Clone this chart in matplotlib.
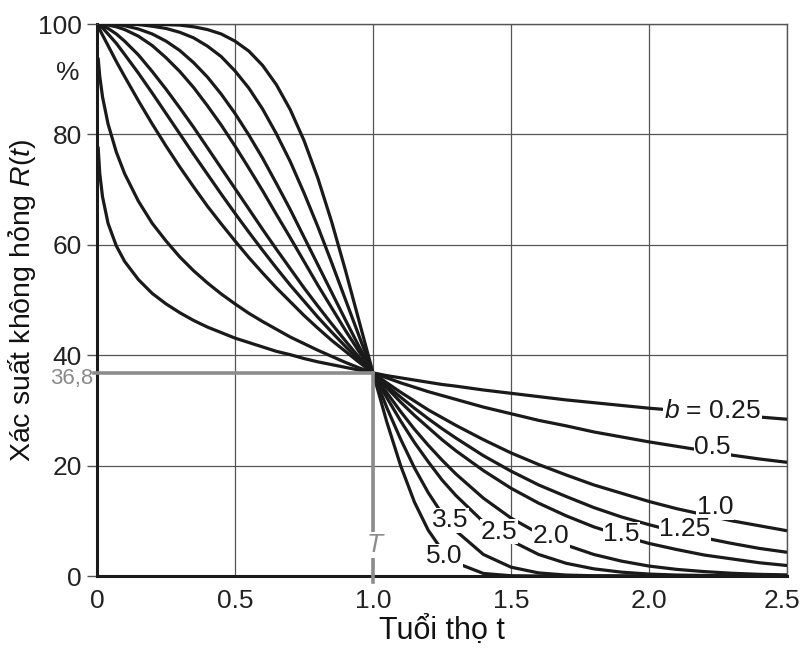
import matplotlib
matplotlib.use("Agg")
import matplotlib.pyplot as plt
import matplotlib.transforms as mtransforms

plt.rcParams['font.family'] = ['Liberation Sans', 'DejaVu Sans']
plt.rcParams['mathtext.fontset'] = 'custom'
plt.rcParams['mathtext.rm'] = 'Liberation Sans'
plt.rcParams['mathtext.it'] = 'Liberation Sans:italic'

# --- data: R(t) in %, one list per shape factor b ---
t = [0.004, 0.01, 0.02, 0.04, 0.07, 0.1, 0.15, 0.2, 0.25, 0.3, 0.35, 0.4, 0.45,
     0.5, 0.55, 0.6, 0.65, 0.7, 0.75, 0.8, 0.85, 0.9, 0.95, 1.0, 1.05, 1.1,
     1.15, 1.2, 1.25, 1.3, 1.4, 1.5, 1.6, 1.7, 1.8, 1.9, 2.0, 2.1, 2.2, 2.3,
     2.4, 2.5]

r_b025 = [77.8, 72.9, 68.7, 63.9, 59.8, 57.0, 53.7, 51.2, 49.3, 47.7, 46.3, 45.1,
          44.1, 43.1, 42.3, 41.5, 40.7, 40.1, 39.4, 38.8, 38.3, 37.8, 37.3, 36.8,
          36.3, 35.9, 35.5, 35.1, 34.7, 34.4, 33.7, 33.1, 32.5, 31.9, 31.4, 30.9,
          30.4, 30.0, 29.6, 29.2, 28.8, 28.4]
r_b05 = [93.9, 90.5, 86.8, 81.9, 76.8, 72.9, 67.9, 63.9, 60.7, 57.8, 55.3, 53.1,
         51.1, 49.3, 47.6, 46.1, 44.7, 43.3, 42.1, 40.9, 39.8, 38.7, 37.7, 36.8,
         35.9, 35.0, 34.2, 33.4, 32.7, 32.0, 30.6, 29.4, 28.2, 27.2, 26.1, 25.2,
         24.3, 23.5, 22.7, 21.9, 21.2, 20.6]
r_b1 = [99.6, 99.0, 98.0, 96.1, 93.2, 90.5, 86.1, 81.9, 77.9, 74.1, 70.5, 67.0,
        63.8, 60.7, 57.7, 54.9, 52.2, 49.7, 47.2, 44.9, 42.7, 40.7, 38.7, 36.8,
        35.0, 33.3, 31.7, 30.1, 28.7, 27.3, 24.7, 22.3, 20.2, 18.3, 16.5, 15.0,
        13.5, 12.2, 11.1, 10.0, 9.1, 8.2]
r_b125 = [99.9, 99.7, 99.3, 98.2, 96.5, 94.5, 91.1, 87.5, 83.8, 80.1, 76.4, 72.8,
          69.2, 65.7, 62.3, 59.0, 55.8, 52.7, 49.8, 46.9, 44.2, 41.6, 39.1, 36.8,
          34.5, 32.4, 30.4, 28.5, 26.7, 25.0, 21.8, 19.0, 16.5, 14.4, 12.4, 10.7,
          9.3, 8.0, 6.9, 5.9, 5.0, 4.3]
r_b15 = [100.0, 99.9, 99.7, 99.2, 98.2, 96.9, 94.4, 91.4, 88.2, 84.8, 81.3, 77.6,
         73.9, 70.2, 66.5, 62.8, 59.2, 55.7, 52.2, 48.9, 45.7, 42.6, 39.6, 36.8,
         34.1, 31.5, 29.1, 26.9, 24.7, 22.7, 19.1, 15.9, 13.2, 10.9, 8.9, 7.3,
         5.9, 4.8, 3.8, 3.1, 2.4, 1.9]
r_b2 = [100.0, 100.0, 100.0, 99.8, 99.5, 99.0, 97.8, 96.1, 93.9, 91.4, 88.5, 85.2,
        81.7, 77.9, 73.9, 69.8, 65.5, 61.3, 57.0, 52.7, 48.6, 44.5, 40.6, 36.8,
        33.2, 29.8, 26.6, 23.7, 21.0, 18.5, 14.1, 10.5, 7.7, 5.6, 3.9, 2.7,
        1.8, 1.2, 0.8, 0.5, 0.3, 0.2]
r_b25 = [100.0, 100.0, 100.0, 100.0, 99.9, 99.7, 99.1, 98.2, 96.9, 95.2, 93.0, 90.4,
         87.3, 83.8, 79.9, 75.7, 71.1, 66.4, 61.4, 56.4, 51.4, 46.4, 41.5, 36.8,
         32.3, 28.1, 24.2, 20.7, 17.4, 14.6, 9.8, 6.4, 3.9, 2.3, 1.3, 0.7,
         0.35, 0.17, 0.1, 0.0, 0.0, 0.0]
r_b35 = [100.0, 100.0, 100.0, 100.0, 100.0, 100.0, 99.9, 99.6, 99.2, 98.5, 97.5, 96.0,
         94.1, 91.5, 88.4, 84.6, 80.1, 75.1, 69.4, 63.3, 56.8, 50.1, 43.4, 36.8,
         30.5, 24.8, 19.6, 15.1, 11.3, 8.2, 3.9, 1.6, 0.56, 0.17, 0.04, 0.0,
         0.0, 0.0, 0.0, 0.0, 0.0, 0.0]
r_b5 = [100.0, 100.0, 100.0, 100.0, 100.0, 100.0, 100.0, 100.0, 99.9, 99.8, 99.5, 99.0,
        98.2, 96.9, 95.1, 92.5, 89.0, 84.5, 78.9, 72.1, 64.2, 55.4, 46.1, 36.8,
        27.9, 20.0, 13.4, 8.3, 4.7, 2.4, 0.46, 0.05, 0.0, 0.0, 0.0, 0.0,
        0.0, 0.0, 0.0, 0.0, 0.0, 0.0]

curves = [r_b025, r_b05, r_b1, r_b125, r_b15, r_b2, r_b25, r_b35, r_b5]
curve_labels = ['$b$ = 0.25', '0.5', '1.0', '1.25', '1.5', '2.0', '2.5', '3.5', '5.0']
# where each inline label sits (t, R%)
label_pos = [(2.23, 29.9), (2.23, 23.4), (2.24, 12.5), (2.13, 8.5), (1.90, 7.6),
             (1.645, 7.2), (1.457, 8.0), (1.28, 10.1), (1.257, 3.6)]

x_ticks = [0, 0.5, 1.0, 1.5, 2.0, 2.5]
x_ticklabels = ['0', '0.5', '1.0', '1.5', '2.0', '2.5']
y_ticks = [0, 20, 40, 60, 80, 100]

T_val = 1.0
R_T = 36.8

fig = plt.figure(figsize=(8.03, 6.51), dpi=100)
ax = fig.add_axes([0.1208, 0.1152, 0.8593, 0.8479])

for r in curves:
    ax.plot(t, r, color='#1a1a1a', lw=2.3, solid_capstyle='butt', zorder=3)

for lab, (x, y) in zip(curve_labels, label_pos):
    ax.text(x, y, lab, fontsize=19, color='#1a1a1a', ha='center', va='center',
            zorder=5, bbox=dict(facecolor='white', edgecolor='none', pad=0.3))

# reference lines at T / 36.8 %
gray = '#8c8c8c'
ax.plot([-0.01, T_val], [R_T, R_T], color=gray, lw=2.6, zorder=4, clip_on=False)
ax.plot([T_val, T_val], [R_T, -1.0], color=gray, lw=2.6, zorder=4, clip_on=False)
ax.text(1.007, 5.6, 'T', fontsize=19, style='italic', color=gray, ha='center',
        va='center', zorder=5, bbox=dict(facecolor='white', edgecolor='none', pad=0.5))
ax.text(-0.037, 35.8, '36,8', transform=ax.get_yaxis_transform(), fontsize=16,
        color='#8a8a8a', ha='center', va='center')
ax.text(-0.042, 0.912, '%', transform=ax.transAxes, fontsize=19, color='#222222',
        ha='center', va='center')

ax.set_xlim(0, 2.5)
ax.set_ylim(0, 100)
ax.set_xticks(x_ticks)
ax.set_xticklabels(x_ticklabels)
ax.set_yticks(y_ticks)
ax.tick_params(axis='both', labelsize=19, labelcolor='#222222')
ax.tick_params(axis='x', length=0, pad=9)
ax.tick_params(axis='y', length=7, width=1, color='#555555', pad=4)

# keep the last x tick label inside the canvas
last = ax.get_xticklabels()[-1]
last.set_transform(last.get_transform() +
                   mtransforms.ScaledTranslation(-4 / 72, 0, fig.dpi_scale_trans))

ax.grid(True, color='#555555', lw=0.9, zorder=1)
for side in ['top', 'right']:
    ax.spines[side].set_color('#555555')
    ax.spines[side].set_linewidth(1.0)
for side in ['left', 'bottom']:
    ax.spines[side].set_color('#1a1a1a')
    ax.spines[side].set_linewidth(2.2)

ax.set_xlabel('Tuổi thọ t', fontsize=22, color='#111111', labelpad=3)
ax.set_ylabel('Xác suất không hỏng $R(t)$', fontsize=20.5, color='#111111')
ax.yaxis.set_label_coords(-0.086, 0.5)

fig.savefig('out.png', dpi=100)
